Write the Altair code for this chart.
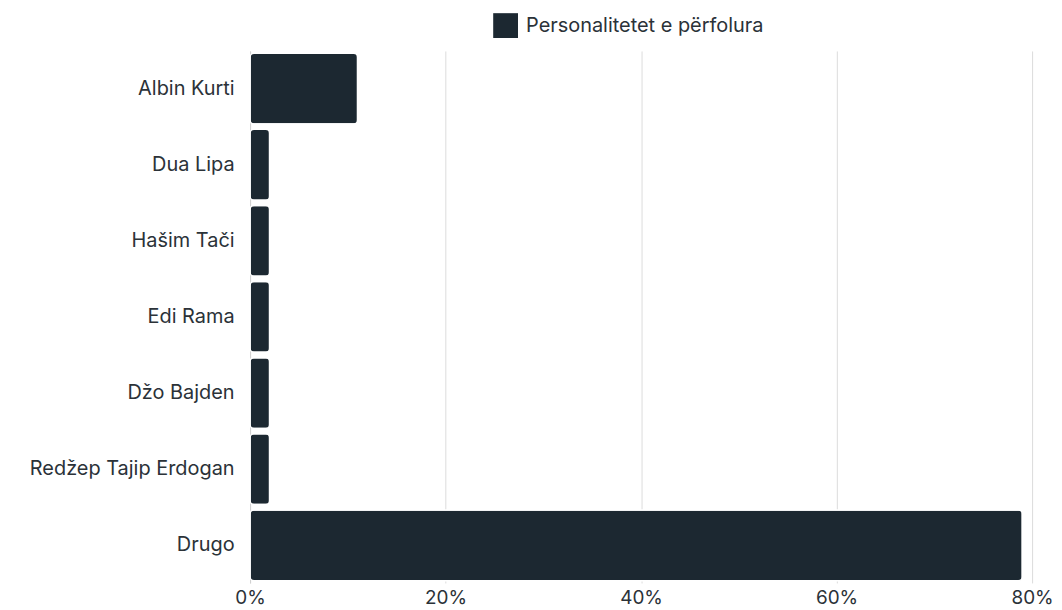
import altair as alt
import pandas as pd

names = ["Albin Kurti", "Dua Lipa", "Hašim Tači", "Edi Rama", "Džo Bajden",
         "Redžep Tajip Erdogan", "Drugo"]
shares = [0.11, 0.02, 0.02, 0.02, 0.02, 0.02, 0.79]
series = ["Personalitetet e përfolura"] * len(names)

df = pd.DataFrame({"name": names, "share": shares, "series": series})

FONT = "Inter"
TXT = "#2b3238"
BAR = "#1c2831"

chart = alt.Chart(df).mark_bar(
    cornerRadius=4, stroke="white", strokeWidth=1.5
).encode(
    y=alt.Y("name:N", sort=names, title=None,
            scale=alt.Scale(paddingInner=0.07, paddingOuter=0.03),
            axis=alt.Axis(labelFont=FONT, labelFontSize=20, labelColor=TXT,
                          ticks=False, domain=True, domainColor="#d0d0d0",
                          labelPadding=16, grid=False, labelLimit=400)),
    x=alt.X("share:Q", title=None,
            scale=alt.Scale(domain=[0, 0.8], nice=False),
            axis=alt.Axis(format=".0%", values=[0, 0.2, 0.4, 0.6, 0.8],
                          labelFont=FONT, labelFontSize=19, labelColor=TXT,
                          ticks=False, domain=False, grid=True,
                          gridColor="#dcdcdc", labelPadding=6,
                          labelFlush=False)),
    color=alt.Color("series:N", title=None,
                    scale=alt.Scale(range=[BAR]),
                    legend=alt.Legend(orient="none", legendX=244, legendY=-38,
                                      symbolType="square", symbolSize=620,
                                      symbolStrokeWidth=0, symbolOpacity=1,
                                      labelFont=FONT, labelFontSize=20,
                                      labelColor=TXT, labelLimit=400,
                                      labelOffset=8)),
).properties(
    width=785, height=534,
    padding={"left": 21, "top": 4, "right": 0, "bottom": 0},
).configure(background="white").configure_view(strokeWidth=0)

chart.save("out.html", embed_options={"renderer": "svg", "actions": False})
